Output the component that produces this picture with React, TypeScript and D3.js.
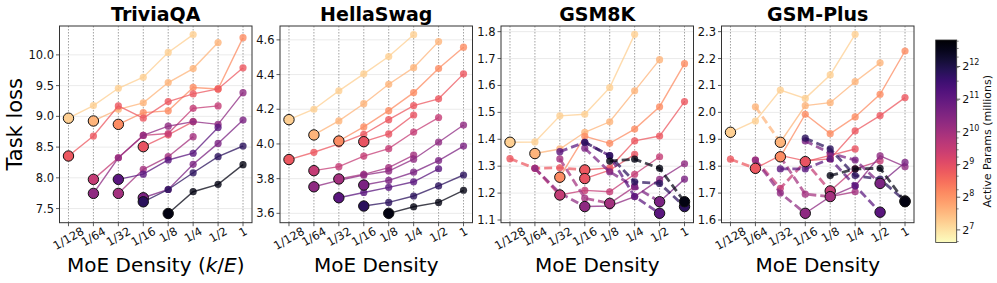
import * as d3 from 'd3'

const DENSITY_LABELS = ['1/128', '1/64', '1/32', '1/16', '1/8', '1/4', '1/2', '1']
const DENSITIES = [1 / 128, 1 / 64, 1 / 32, 1 / 16, 1 / 8, 1 / 4, 1 / 2, 1]

// one run per active-param size (millions); START_INDEX = first density it was trained at
const ACTIVE_PARAMS = [151, 194, 274, 446, 478, 724, 1024, 1261, 1552, 2195, 3566, 6208]
const START_INDEX = [0, 1, 2, 0, 3, 1, 2, 1, 3, 2, 3, 4]

const TRIVIAQA_LOSS = [
  [8.97, 9.175, 9.457, 9.636, 10.04, 10.33],
  [8.925, 9.115, 9.22, 9.55, 9.777, 10.2],
  [8.87, 9.06, 9.09, 9.47, 9.446, 10.28],
  [8.355, 8.68, 9.17, 8.97, 9.24, 9.365, 9.446, 9.79],
  [8.507, 8.7, 8.915],
  [7.975, 8.327, 8.69, 8.72, 9.13, 9.17],
  [7.747, 8.138, 8.344, 8.67],
  [7.747, 8.327, 8.69, 8.84, 8.915, 8.87, 9.386],
  [7.676, 7.81, 8.22, 8.56, 8.94],
  [7.975, 8.06, 8.29, 8.4, 8.82],
  [7.61, 7.81, 8.083, 8.344, 8.518],
  [7.42, 7.774, 7.894, 8.214],
]
const HELLASWAG_LOSS = [
  [4.14, 4.2, 4.306, 4.404, 4.504, 4.63],
  [4.052, 4.133, 4.232, 4.344, 4.44, 4.59],
  [4.017, 4.098, 4.192, 4.296, 4.435, 4.558],
  [3.91, 3.952, 4.0, 4.056, 4.14, 4.221, 4.26, 4.404],
  [4.013, 4.058, 4.167],
  [3.846, 3.869, 3.93, 3.973, 4.069, 4.152],
  [3.798, 3.825, 3.863, 3.936],
  [3.753, 3.79, 3.82, 3.844, 3.912, 4.01, 4.109],
  [3.763, 3.79, 3.837, 3.904, 3.988],
  [3.69, 3.72, 3.75, 3.782, 3.857],
  [3.642, 3.663, 3.7, 3.758, 3.821],
  [3.6, 3.638, 3.663, 3.733],
]
const GSM8K_LOSS = [
  [1.389, 1.39, 1.487, 1.493, 1.592, 1.79],
  [1.347, 1.364, 1.426, 1.465, 1.58, 1.696],
  [1.259, 1.411, 1.385, 1.438, 1.521, 1.681],
  [1.328, 1.292, 1.294, 1.286, 1.294, 1.394, 1.412, 1.54],
  [1.254, 1.285, 1.344],
  [1.292, 1.193, 1.21, 1.205, 1.27, 1.335],
  [1.327, 1.181, 1.162, 1.224],
  [1.292, 1.2, 1.15, 1.152, 1.187, 1.251, 1.309],
  [1.367, 1.279, 1.224, 1.168, 1.252],
  [1.354, 1.389, 1.339, 1.187, 1.125],
  [1.389, 1.339, 1.242, 1.236, 1.15],
  [1.319, 1.326, 1.292, 1.168],
]
const GSMPLUS_LOSS = [
  [1.926, 1.968, 2.083, 2.052, 2.139, 2.29],
  [2.021, 1.889, 2.025, 2.036, 2.114, 2.184],
  [1.835, 1.993, 1.921, 1.983, 2.067, 2.228],
  [1.826, 1.792, 1.84, 1.82, 1.827, 1.931, 1.988, 2.055],
  [1.817, 1.84, 1.864],
  [1.823, 1.718, 1.817, 1.708, 1.79, 1.82],
  [1.835, 1.696, 1.687, 1.705],
  [1.823, 1.7, 1.625, 1.687, 1.727, 1.838, 1.798],
  [1.894, 1.848, 1.823, 1.736, 1.814],
  [1.79, 1.79, 1.827, 1.727, 1.629],
  [1.904, 1.864, 1.765, 1.752, 1.671],
  [1.765, 1.79, 1.792, 1.668],
]

const TRIVIAQA_TICKS = [7.5, 8.0, 8.5, 9.0, 9.5, 10.0]
const HELLASWAG_TICKS = [3.6, 3.8, 4.0, 4.2, 4.4, 4.6]
const GSM8K_TICKS = [1.1, 1.2, 1.3, 1.4, 1.5, 1.6, 1.7, 1.8]
const GSMPLUS_TICKS = [1.6, 1.7, 1.8, 1.9, 2.0, 2.1, 2.2, 2.3]

const COLORBAR_TICKS = [7, 8, 9, 10, 11, 12]
const COLORBAR_MINOR = [100, 200, 300, 400, 500, 600, 700, 800, 900, 2000, 3000, 4000, 5000, 6000, 7000]

const PANELS = [
  {title: 'TriviaQA', loss: TRIVIAQA_LOSS, domain: [7.27, 10.47], ticks: TRIVIAQA_TICKS, left: 59.5},
  {title: 'HellaSwag', loss: HELLASWAG_LOSS, domain: [3.546, 4.68], ticks: HELLASWAG_TICKS, left: 280},
  {title: 'GSM8K', loss: GSM8K_LOSS, domain: [1.09, 1.821], ticks: GSM8K_TICKS, left: 501},
  {title: 'GSM-Plus', loss: GSMPLUS_LOSS, domain: [1.59, 2.321], ticks: GSMPLUS_TICKS, left: 721.5},
]

const W = 997
const H = 283
const PANEL_W = 192.5
const TOP = 26
const BOTTOM = 222.7
const FONT = 'DejaVu Sans'
const TICK_FS = 11.5
const CBAR_DOMAIN = [98, 7180]

const color = d3.scaleSequentialLog((t: number) => d3.interpolateMagma(1 - t)).domain(CBAR_DOMAIN)

function labelWidth(s: string) {
  let w = 0
  for (const c of s) w += c === '/' ? 0.337 : 0.636
  return w * TICK_FS
}

function Panel({p, index}: {p: typeof PANELS[number], index: number}) {
  const left = p.left
  const x = d3.scaleLog().base(2).domain([2 ** -7.36, 2 ** 0.36]).range([left, left + PANEL_W])
  const y = d3.scaleLinear().domain(p.domain).range([BOTTOM, TOP])
  const line = d3.line<[number, number]>().x(d => x(d[0])).y(d => y(d[1]))

  const series = p.loss.map((vals, i) => {
    const pts = vals.map((v, j) => [DENSITIES[START_INDEX[i] + j], v] as [number, number])
    const m = d3.minIndex(vals)
    return {pts, m, c: color(ACTIVE_PARAMS[i])}
  })

  const cx = left + PANEL_W / 2

  return (
    <g fontFamily={FONT}>
      {/* grid */}
      {p.ticks.map(t => (
        <line key={'h' + t} x1={left} x2={left + PANEL_W} y1={y(t)} y2={y(t)} stroke="#ebebeb" strokeWidth={1} />
      ))}
      {DENSITIES.map(d => (
        <line key={'v' + d} x1={x(d)} x2={x(d)} y1={TOP} y2={BOTTOM} stroke="#8a8a8a" strokeWidth={0.8} strokeDasharray="1.5,1.5" />
      ))}

      {/* runs: dashed up to the best density, solid after it */}
      {series.map((s, i) => (
        <g key={i}>
          {s.m > 0 && (
            <path d={line(s.pts.slice(0, s.m + 1)) ?? undefined} fill="none" stroke={s.c}
              strokeWidth={2.8} strokeDasharray="8,4" opacity={0.72} />
          )}
          <path d={line(s.pts.slice(s.m)) ?? undefined} fill="none" stroke={s.c} strokeWidth={1.4} opacity={0.75} />
          {s.pts.map((pt, j) => (
            <circle key={j} cx={x(pt[0])} cy={y(pt[1])} r={3.6} fill={s.c} opacity={0.8} />
          ))}
        </g>
      ))}
      {series.map((s, i) => (
        <circle key={'b' + i} cx={x(s.pts[s.m][0])} cy={y(s.pts[s.m][1])} r={5.2} fill={s.c} stroke="#111" strokeWidth={1} />
      ))}

      {/* frame */}
      <rect x={left} y={TOP} width={PANEL_W} height={BOTTOM - TOP} fill="none" stroke="#333" strokeWidth={1} />

      {/* y axis */}
      {p.ticks.map(t => (
        <g key={'yt' + t}>
          <line x1={left - 3.5} x2={left} y1={y(t)} y2={y(t)} stroke="#333" strokeWidth={0.8} />
          <text x={left - 5.5} y={y(t)} fontSize={TICK_FS} textAnchor="end" dominantBaseline="central" fill="#111">
            {t.toFixed(1)}
          </text>
        </g>
      ))}

      {/* x axis */}
      {DENSITIES.map((d, j) => {
        const lab = DENSITY_LABELS[j]
        const hb = labelWidth(lab) * 0.5 + TICK_FS * 0.73 * 0.866
        return (
          <g key={'xt' + j}>
            <line x1={x(d)} x2={x(d)} y1={BOTTOM} y2={BOTTOM + 3.5} stroke="#333" strokeWidth={0.8} />
            <text transform={`translate(${x(d)},${226.5 + hb / 2}) rotate(-30)`} fontSize={TICK_FS}
              textAnchor="middle" dominantBaseline="central" fill="#111">
              {lab}
            </text>
          </g>
        )
      })}

      <text x={cx} y={21} fontSize={19} fontWeight="bold" textAnchor="middle" fill="#000">{p.title}</text>
      <text x={cx} y={272} fontSize={20} textAnchor="middle" fill="#000">
        MoE Density
        {index === 0 && <tspan> (<tspan fontStyle="italic">k</tspan>/<tspan fontStyle="italic">E</tspan>)</tspan>}
      </text>
    </g>
  )
}

function Colorbar() {
  const x0 = 935.7
  const w = 21
  const y0 = 40
  const h = 202.5
  const y = d3.scaleLog().base(2).domain(CBAR_DOMAIN).range([y0 + h, y0])
  const stops = d3.range(0, 1.0001, 0.05)
  return (
    <g fontFamily={FONT}>
      <defs>
        <linearGradient id="cbar" x1="0" y1="0" x2="0" y2="1">
          {stops.map(o => (
            <stop key={o} offset={o} stopColor={color(y.invert(y0 + o * h))} />
          ))}
        </linearGradient>
      </defs>
      <rect x={x0} y={y0} width={w} height={h} fill="url(#cbar)" stroke="#333" strokeWidth={0.8} />
      {COLORBAR_MINOR.map(v => (
        <line key={'m' + v} x1={x0 + w} x2={x0 + w + 2} y1={y(v)} y2={y(v)} stroke="#333" strokeWidth={0.6} />
      ))}
      {COLORBAR_TICKS.map(k => (
        <g key={k}>
          <line x1={x0 + w} x2={x0 + w + 3.5} y1={y(2 ** k)} y2={y(2 ** k)} stroke="#333" strokeWidth={0.8} />
          <text x={x0 + w + 5.5} y={y(2 ** k) + 4} fontSize={11} fill="#111">
            2<tspan dy={-5} fontSize={8}>{k}</tspan>
          </text>
        </g>
      ))}
      <text transform={`translate(990.5,141.2) rotate(-90)`} fontSize={11} textAnchor="middle" fill="#111">
        Active Params (millions)
      </text>
    </g>
  )
}

export default function App() {
  return (
    <svg width={W} height={H} viewBox={`0 0 ${W} ${H}`}
      style={{position: 'absolute', left: 0, top: 0, background: '#fff'}}>
      <rect width={W} height={H} fill="#fff" />
      {PANELS.map((p, i) => <Panel key={p.title} p={p} index={i} />)}
      <text transform="translate(22,124.3) rotate(-90)" fontFamily={FONT} fontSize={21} textAnchor="middle" fill="#000">
        Task loss
      </text>
      <Colorbar />
    </svg>
  )
}
